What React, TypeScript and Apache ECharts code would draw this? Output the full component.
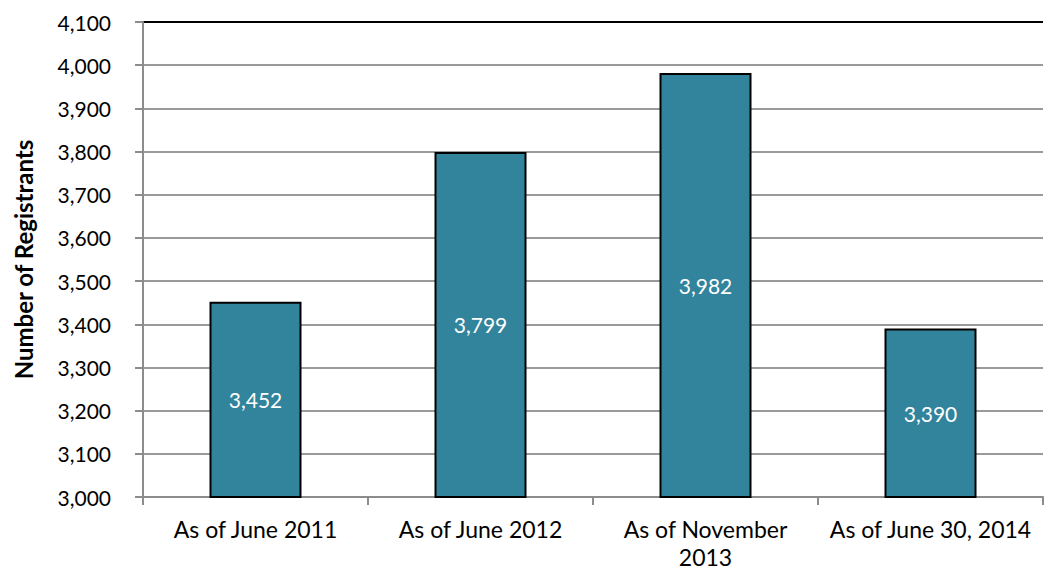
import React, { useEffect, useRef } from "react";
import * as echarts from "echarts";

const categories = ["As of June 2011", "As of June 2012", "As of November\n2013", "As of June 30, 2014"];
const registrants = [3452, 3799, 3982, 3390];
const yMin = 3000;
const yMax = 4100;
const yInterval = 100;

const FONT = "Lato, 'Open Sans', sans-serif";

export default function App() {
  const ref = useRef<HTMLDivElement>(null);
  useEffect(() => {
    const chart = echarts.init(ref.current!, undefined, { renderer: "svg" });
    const nLines = (yMax - yMin) / yInterval + 1;
    const splitColors: string[] = [];
    for (let i = 0; i < nLines; i++) splitColors.push(i === nLines - 1 ? "#000000" : "#9a9a9a");
    chart.setOption({
      animation: false,
      backgroundColor: "#ffffff",
      grid: { left: 143, right: 5, top: 22, bottom: 76, containLabel: false, outerBoundsMode: "none" },
      xAxis: {
        type: "category",
        data: categories,
        axisLine: { lineStyle: { color: "#8c8c8c", width: 2 } },
        axisTick: { show: true, length: 8, lineStyle: { color: "#8c8c8c", width: 2 } },
        axisLabel: { color: "#000", fontSize: 23, fontFamily: FONT, margin: 18, lineHeight: 28, interval: 0 },
      },
      yAxis: {
        type: "value",
        min: yMin,
        max: yMax,
        interval: yInterval,
        name: "Number of Registrants",
        nameLocation: "middle",
        nameGap: 108,
        nameTextStyle: { color: "#000", fontSize: 24, fontWeight: "bold", fontFamily: FONT },
        axisLine: { show: true, lineStyle: { color: "#8c8c8c", width: 2 } },
        axisTick: { show: true, length: 8, lineStyle: { color: "#8c8c8c", width: 2 } },
        splitLine: { show: true, lineStyle: { color: splitColors, width: 2 } },
        axisLabel: {
          color: "#000",
          fontSize: 21,
          fontFamily: FONT,
          margin: 32,
          formatter: (v: number) => v.toLocaleString("en-US"),
        },
      },
      series: [
        {
          type: "bar",
          data: registrants,
          barWidth: 92,
          itemStyle: { color: "#31849B", borderColor: "#000", borderWidth: 2 },
          label: {
            show: true,
            position: "inside",
            color: "#fff",
            fontSize: 21,
            fontFamily: FONT,
            formatter: (p: any) => Number(p.value).toLocaleString("en-US"),
          },
        },
      ],
    });
    return () => chart.dispose();
  }, []);
  return <div ref={ref} style={{ width: 1048, height: 573, position: "absolute", left: 0, top: 0 }} />;
}
